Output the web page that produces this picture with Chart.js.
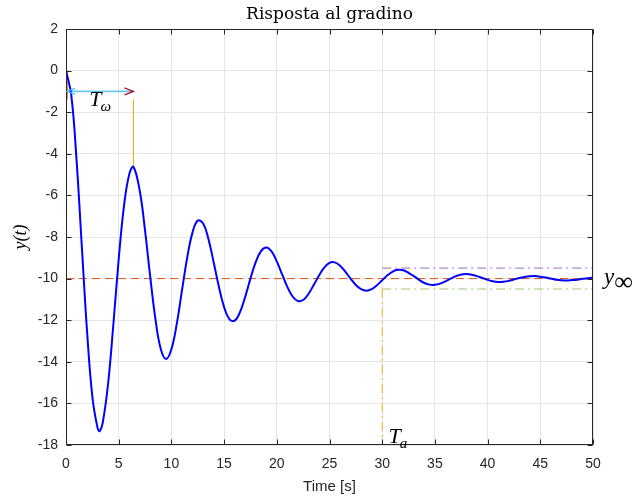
<!DOCTYPE html>
<html>
<head>
<meta charset="utf-8">
<script src="https://cdn.jsdelivr.net/npm/chart.js@4.4.1/dist/chart.umd.min.js"></script>
<style>
  html, body { margin: 0; padding: 0; background: #fff; }
</style>
</head>
<body>
<canvas id="stepChart" width="635" height="500"></canvas>
<script>
// step response
const time = [
  0, 0.5, 1, 1.5, 2, 2.5, 3, 3.2, 3.5, 4, 4.5, 5, 5.5, 6, 6.4, 7, 7.5, 8, 8.5, 9, 9.5,
  10, 10.5, 11, 11.5, 12, 12.5, 13, 13.5, 14, 14.5, 15, 15.5, 16, 16.5, 17, 17.5, 18, 18.5, 19, 19.5,
  20, 20.5, 21, 21.5, 22, 22.5, 23, 23.5, 24, 24.5, 25, 25.5, 26, 26.5, 27, 27.5, 28, 28.5, 29, 29.5,
  30, 30.5, 31, 31.5, 32, 32.5, 33, 33.5, 34, 34.5, 35, 35.5, 36, 36.5, 37, 37.5, 38, 38.5, 39, 39.5,
  40, 40.5, 41, 41.5, 42, 42.5, 43, 43.5, 44, 44.5, 45, 45.5, 46, 46.5, 47, 47.5, 48, 48.5, 49, 49.5, 50
];
const response = [
  0, -1.18, -4.29, -8.44, -12.55, -15.67, -17.19, -17.33, -16.89, -15.02, -12.16, -9.07, -6.51, -4.98, -4.63, -5.79, -7.69, -9.95, -12.00, -13.40, -13.87,
  -13.40, -12.20, -10.58, -8.99, -7.79, -7.21, -7.34, -8.07, -9.19, -10.38, -11.37, -11.95, -12.02, -11.62, -10.88, -10.00, -9.21, -8.68, -8.50, -8.69,
  -9.17, -9.79, -10.40, -10.86, -11.08, -11.03, -10.74, -10.31, -9.85, -9.47, -9.24, -9.22, -9.38, -9.67, -10.00, -10.31, -10.51, -10.58, -10.51, -10.32,
  -10.08, -9.84, -9.66, -9.58, -9.60, -9.72, -9.88, -10.06, -10.21, -10.29, -10.30, -10.24, -10.13, -10.00, -9.88, -9.80, -9.78, -9.81, -9.88, -9.97,
  -10.06, -10.13, -10.16, -10.15, -10.11, -10.04, -9.97, -9.92, -9.89, -9.88, -9.91, -9.95, -10.00, -10.05, -10.08, -10.09, -10.07, -10.05, -10.01, -9.98, -9.95
];

const finalValue = -10;
const bandUpper = -9.5;
const bandLower = -10.5;
const settlingTime = 30;
const periodStart = 0.1;
const periodEnd = 6.4;
const periodArrowY = -1;
const periodMarkY = -1.4;
const firstPeak = -4.63;

const xTicks = [0, 5, 10, 15, 20, 25, 30, 35, 40, 45, 50];
const yTicks = [2, 0, -2, -4, -6, -8, -10, -12, -14, -16, -18];

const pts = (xs, ys) => xs.map((v, i) => ({ x: v, y: ys[i] }));

const sans = '"Liberation Sans", Arial, sans-serif';
const serif = '"Liberation Serif", "Times New Roman", serif';

const decorations = {
  id: 'decorations',
  afterDraw(chart) {
    const { ctx, chartArea: a, scales: { x, y } } = chart;
    ctx.save();

    // axes box
    const L = Math.round(a.left) + 0.5, R = Math.round(a.right) - 0.5;
    const T = Math.round(a.top) + 0.5, B = Math.round(a.bottom) - 0.5;
    ctx.strokeStyle = '#262626';
    ctx.lineWidth = 1;
    ctx.strokeRect(L, T, R - L, B - T);

    // inward ticks
    ctx.beginPath();
    xTicks.forEach(v => {
      const px = Math.round(x.getPixelForValue(v)) + 0.5;
      ctx.moveTo(px, B); ctx.lineTo(px, B - 5);
      ctx.moveTo(px, T); ctx.lineTo(px, T + 5);
    });
    yTicks.forEach(v => {
      const py = Math.round(y.getPixelForValue(v)) + 0.5;
      ctx.moveTo(L, py); ctx.lineTo(L + 5, py);
      ctx.moveTo(R, py); ctx.lineTo(R - 5, py);
    });
    ctx.stroke();

    // arrow heads of the period marker
    const ay = y.getPixelForValue(periodArrowY);
    const ax0 = x.getPixelForValue(periodStart);
    const ax1 = x.getPixelForValue(periodEnd);
    ctx.lineWidth = 1.3;
    ctx.strokeStyle = '#4DBEEE';
    ctx.beginPath();
    ctx.moveTo(ax0 + 8, ay - 3); ctx.lineTo(ax0, ay); ctx.lineTo(ax0 + 8, ay + 3);
    ctx.stroke();
    ctx.strokeStyle = '#A2142F';
    ctx.beginPath();
    ctx.moveTo(ax1 - 9, ay - 3.5); ctx.lineTo(ax1, ay); ctx.lineTo(ax1 - 9, ay + 3.5);
    ctx.stroke();

    // title
    ctx.fillStyle = '#000';
    ctx.font = '17px "DejaVu Serif", serif';
    ctx.textAlign = 'center';
    ctx.textBaseline = 'middle';
    ctx.fillText('Risposta al gradino', (a.left + a.right) / 2, 15);

    // labels with subscripts
    const label = (main, sub, px, py, size) => {
      ctx.textAlign = 'left';
      ctx.textBaseline = 'alphabetic';
      ctx.font = 'italic ' + size + 'px ' + serif;
      ctx.fillText(main, px, py);
      const w = ctx.measureText(main).width;
      ctx.font = 'italic ' + Math.round(size * 0.7) + 'px ' + serif;
      ctx.fillText(sub, px + w - 1, py + size * 0.22);
    };
    label('T', 'ω', x.getPixelForValue(2.2), y.getPixelForValue(-1.7), 22);
    label('T', 'a', x.getPixelForValue(30.6), y.getPixelForValue(-17.9), 22);

    ctx.font = 'italic 23px ' + serif;
    ctx.textAlign = 'left';
    ctx.textBaseline = 'alphabetic';
    ctx.fillText('y', a.right + 11, y.getPixelForValue(finalValue) + 5);
    const yw = ctx.measureText('y').width;
    ctx.font = '26px ' + serif;
    ctx.fillText('∞', a.right + 11 + yw, y.getPixelForValue(finalValue) + 11);

    ctx.restore();
  }
};

const ctx = document.getElementById('stepChart').getContext('2d');
new Chart(ctx, {
  type: 'scatter',
  data: {
    datasets: [
      {
        label: 'y(t)',
        data: pts(time, response),
        showLine: true,
        borderColor: '#0000FF',
        borderWidth: 2,
        tension: 0.4,
        pointRadius: 0
      },
      {
        label: 'y_inf',
        data: pts([0, 50], [finalValue, finalValue]),
        showLine: true,
        borderColor: '#D95319',
        borderWidth: 1,
        borderDash: [8, 5],
        pointRadius: 0
      },
      {
        label: 'upper band',
        data: pts([settlingTime, 50], [bandUpper, bandUpper]),
        showLine: true,
        borderColor: '#B48CC6',
        borderWidth: 1.2,
        borderDash: [9, 4, 2, 4],
        pointRadius: 0
      },
      {
        label: 'lower band',
        data: pts([settlingTime, 50], [bandLower, bandLower]),
        showLine: true,
        borderColor: '#9FC96E',
        borderWidth: 1.2,
        borderDash: [9, 4, 2, 4],
        pointRadius: 0
      },
      {
        label: 'T_a',
        data: pts([settlingTime, settlingTime], [bandLower, -18]),
        showLine: true,
        borderColor: '#EDB120',
        borderWidth: 1,
        borderDash: [9, 4, 2, 4],
        pointRadius: 0
      },
      {
        label: 'start mark',
        data: pts([periodStart, periodStart], [0, periodMarkY]),
        showLine: true,
        borderColor: '#E58A62',
        borderWidth: 2,
        pointRadius: 0
      },
      {
        label: 'peak mark',
        data: pts([periodEnd, periodEnd], [periodMarkY, firstPeak]),
        showLine: true,
        borderColor: '#EDB120',
        borderWidth: 1,
        pointRadius: 0
      },
      {
        label: 'T_w',
        data: pts([periodStart, periodEnd], [periodArrowY, periodArrowY]),
        showLine: true,
        borderColor: '#6CC6F0',
        borderWidth: 1.6,
        pointRadius: 0
      }
    ]
  },
  options: {
    responsive: false,
    animation: false,
    devicePixelRatio: 1,
    layout: { padding: { top: 29, right: 42, left: 0, bottom: 0 } },
    plugins: {
      legend: { display: false },
      tooltip: { enabled: false }
    },
    scales: {
      x: {
        type: 'linear',
        min: 0,
        max: 50,
        afterFit: s => { s.height = 55; },
        afterBuildTicks: s => { s.ticks = xTicks.map(v => ({ value: v })); },
        ticks: { color: '#262626', padding: 11, font: { family: sans, size: 14 } },
        grid: { color: '#E6E6E6', drawTicks: false },
        border: { display: false },
        title: {
          display: true,
          text: 'Time [s]',
          color: '#262626',
          font: { family: sans, size: 15 },
          padding: { top: 0, bottom: 4 }
        }
      },
      y: {
        type: 'linear',
        min: -18,
        max: 2,
        afterFit: s => { s.width = 66; },
        afterBuildTicks: s => { s.ticks = yTicks.map(v => ({ value: v })); },
        ticks: { color: '#262626', padding: 8, font: { family: sans, size: 14 } },
        grid: { color: '#E6E6E6', drawTicks: false },
        border: { display: false },
        title: {
          display: true,
          text: 'y(t)',
          color: '#000',
          font: { family: serif, size: 18, style: 'italic' },
          padding: { top: 10, bottom: 0 }
        }
      }
    }
  },
  plugins: [decorations]
});
</script>
</body>
</html>
